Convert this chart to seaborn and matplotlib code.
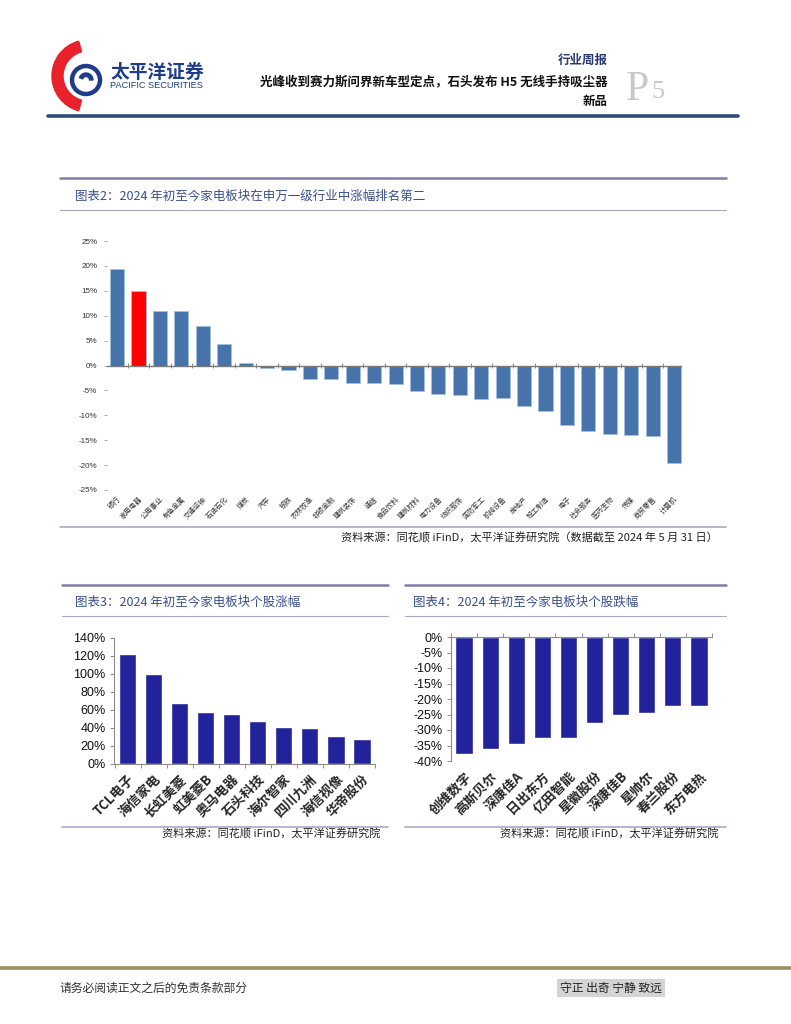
import numpy as np
import matplotlib.pyplot as plt
import seaborn as sns
from matplotlib.lines import Line2D
from matplotlib.patches import Wedge, Circle

# ==============================================================
# Données
# ==============================================================

# Graphique 2 : indices sectoriels Shenwan (niveau 1), variation depuis début 2024
ind_names = ['银行', '家用电器', '公用事业', '有色金属', '交通运输', '石油石化', '煤炭',
             '汽车', '钢铁', '农林牧渔', '非银金融', '建筑装饰', '通信', '食品饮料',
             '建筑材料', '电力设备', '纺织服饰', '国防军工', '机械设备', '房地产',
             '轻工制造', '电子', '社会服务', '医药生物', '传媒', '商贸零售', '计算机']
ind_chg = [19.3, 14.9, 11.0, 10.9, 7.9, 4.3, 0.6,
           -0.5, -1.0, -2.7, -2.8, -3.5, -3.6, -3.8,
           -5.1, -5.7, -5.9, -6.7, -6.6, -8.1,
           -9.1, -11.9, -13.1, -13.7, -13.9, -14.1, -19.5]
highlight = '家用电器'

# Graphique 3 : plus fortes hausses
up_names = ['TCL电子', '海信家电', '长虹美菱', '虹美菱B', '奥马电器',
            '石头科技', '海尔智家', '四川九洲', '海信视像', '华帝股份']
up_chg = [122.3, 99.5, 68.2, 57.5, 55.3, 47.5, 40.9, 39.8, 31.3, 27.3]

# Graphique 4 : plus fortes baisses
down_names = ['创维数字', '高斯贝尔', '深康佳A', '日出东方', '亿田智能',
              '星徽股份', '深康佳B', '星帅尔', '春兰股份', '东方电热']
down_chg = [-37.8, -36.0, -34.6, -32.7, -32.6, -27.9, -25.1, -24.6, -22.4, -22.3]

# ==============================================================
# Configuration
# ==============================================================
sns.set_style("white")
CJK = ['Noto Sans CJK SC', 'DejaVu Sans']
plt.rcParams['font.family'] = CJK
plt.rcParams['axes.unicode_minus'] = False

W, H = 791, 1024
fig = plt.figure(figsize=(W / 100, H / 100), dpi=100)


def box(x0, y0, x1, y1):
    return fig.add_axes([x0 / W, 1 - y1 / H, (x1 - x0) / W, (y1 - y0) / H])


def hline(x0, x1, y, color, lw):
    fig.add_artist(Line2D([x0 / W, x1 / W], [1 - y / H, 1 - y / H],
                          color=color, lw=lw, transform=fig.transFigure))


def txt(x, y, s, **kw):
    fig.text(x / W, 1 - y / H, s, **kw)


def rot_labels(a, bold=False):
    for lbl in a.get_xticklabels():
        lbl.set_rotation(45)
        lbl.set_ha('right')
        lbl.set_va('top')
        lbl.set_rotation_mode('anchor')
        if bold:
            lbl.set_fontweight('bold')


TITLE_C = '#3a4f8e'
LINE_C = '#7d7daa'
LINE_C2 = '#a9a9cc'

# ==============================================================
# En-tête
# ==============================================================
logo = box(45, 36, 112, 116)
logo.set_xlim(45, 112)
logo.set_ylim(116, 36)
logo.axis('off')
logo.add_patch(Wedge((88, 76), 36, 105, 255, width=11, color='#e8212b'))
logo.add_patch(Circle((86, 80), 14, fill=False, lw=3.2, ec='#1f3c8c'))
logo.add_patch(Wedge((86, 80), 7, 200, 360, width=3.5, color='#1f3c8c'))

txt(110, 72, '太平洋证券', fontsize=13.5, fontweight='bold', color='#1f3c8c',
    va='center', ha='left')
txt(110, 86, 'PACIFIC SECURITIES', fontsize=6.6, color='#1f3c8c', va='center',
    ha='left', family=['Liberation Sans'])
txt(608, 60, '行业周报', fontsize=9, fontweight='bold', color='#2a3b70',
    ha='right', va='center')
txt(608, 82, '光峰收到赛力斯问界新车型定点，石头发布 H5 无线手持吸尘器',
    fontsize=9, fontweight='bold', color='#111111', ha='right', va='center')
txt(608, 102, '新品', fontsize=9, fontweight='bold', color='#111111',
    ha='right', va='center')
txt(626, 100, 'P', fontsize=30, color='#c8c8c8', ha='left', va='baseline',
    family=['Liberation Serif'])
txt(651, 98, '5', fontsize=19, color='#c8c8c8', ha='left', va='baseline',
    family=['Liberation Serif'])
hline(48, 738, 116, '#2e4a7a', 2.6)

# ==============================================================
# Graphique 2
# ==============================================================
hline(60, 726, 178, LINE_C, 1.8)
txt(75, 196, '图表2：2024 年初至今家电板块在申万一级行业中涨幅排名第二',
    fontsize=9, color=TITLE_C, va='center')
hline(60, 726, 210, LINE_C2, 0.8)

ax = box(107, 241, 682, 490)
colors = ['#ff0000' if n == highlight else '#4673a9' for n in ind_names]
sns.barplot(x=ind_names, y=ind_chg, hue=ind_names, palette=colors, legend=False,
            width=0.66, saturation=1, edgecolor='#a6c2e4', linewidth=0.5, ax=ax)
ax.set_ylim(-25, 25)
ax.set_xlim(-0.47, len(ind_names) - 0.63)
ax.set_yticks(np.arange(-25, 26, 5))
ax.set_yticklabels([f'{v}%' for v in np.arange(-25, 26, 5)],
                   family=['Liberation Sans'])
for s in ax.spines.values():
    s.set_visible(False)
ax.axhline(0, color='#7a7a7a', lw=1)
ax.vlines(np.arange(len(ind_names) + 1) - 0.5, -0.5, 0.5, color='#7a7a7a', lw=0.6)
ax.tick_params(axis='y', length=2, width=0.6, color='#999999', labelsize=5.8,
               labelcolor='#333333', pad=5, left=True)
ax.tick_params(axis='x', length=0, labelsize=5, labelcolor='#333333', pad=4)
rot_labels(ax)
ax.set_xlabel('')
ax.set_ylabel('')

hline(60, 726, 527, LINE_C2, 1.2)
txt(718, 538, '资料来源：同花顺 iFinD，太平洋证券研究院（数据截至 2024 年 5 月 31 日）',
    fontsize=8, color='#222222', ha='right', va='center')

# ==============================================================
# Graphique 3
# ==============================================================
BAR_C = '#22229a'
hline(62, 388, 585, LINE_C, 1.8)
txt(75, 602, '图表3：2024 年初至今家电板块个股涨幅', fontsize=9, color=TITLE_C,
    va='center')
hline(62, 388, 616, LINE_C2, 0.8)

ax3 = box(114, 638, 375, 764)
sns.barplot(x=up_names, y=up_chg, color=BAR_C, saturation=1, width=0.66, ax=ax3)
ax3.set_ylim(0, 140)
ax3.set_xlim(-0.52, len(up_names) - 0.53)
ax3.set_yticks(np.arange(0, 141, 20))
ax3.set_yticklabels([f'{v}%' for v in np.arange(0, 141, 20)],
                    family=['Liberation Sans'])
for side in ['top', 'right']:
    ax3.spines[side].set_visible(False)
for side in ['left', 'bottom']:
    ax3.spines[side].set_color('#8c8c8c')
    ax3.spines[side].set_linewidth(0.8)
ax3.set_xticks(np.arange(len(up_names) + 1) - 0.5, minor=True)
ax3.tick_params(axis='y', length=3, width=0.7, color='#8c8c8c', labelsize=9,
                labelcolor='#111111', pad=3, left=True)
ax3.tick_params(axis='x', which='major', length=0, labelsize=9.5, pad=6)
ax3.tick_params(axis='x', which='minor', length=3, width=0.7, color='#8c8c8c',
                bottom=True)
rot_labels(ax3, bold=True)
ax3.set_xlabel('')
ax3.set_ylabel('')

hline(62, 388, 827, LINE_C2, 1.2)
txt(380, 834, '资料来源：同花顺 iFinD，太平洋证券研究院', fontsize=8,
    color='#222222', ha='right', va='center')

# ==============================================================
# Graphique 4
# ==============================================================
hline(405, 726, 585, LINE_C, 1.8)
txt(413, 602, '图表4：2024 年初至今家电板块个股跌幅', fontsize=9, color=TITLE_C,
    va='center')
hline(405, 726, 616, LINE_C2, 0.8)

ax4 = box(451, 637, 712, 761)
sns.barplot(x=down_names, y=down_chg, color=BAR_C, saturation=1, width=0.66, ax=ax4)
ax4.set_ylim(-40, 0)
ax4.set_xlim(-0.5, len(down_names) - 0.5)
ax4.set_yticks(np.arange(-40, 1, 5))
ax4.set_yticklabels([f'{v}%' for v in np.arange(-40, 1, 5)],
                    family=['Liberation Sans'])
for side in ['bottom', 'right']:
    ax4.spines[side].set_visible(False)
for side in ['left', 'top']:
    ax4.spines[side].set_color('#8c8c8c')
    ax4.spines[side].set_linewidth(0.8)
ax4.set_xticks(np.arange(len(down_names) + 1) - 0.5, minor=True)
ax4.tick_params(axis='y', length=3, width=0.7, color='#8c8c8c', labelsize=9,
                labelcolor='#111111', pad=3, left=True)
ax4.tick_params(axis='x', which='major', length=0, labelsize=9.5, pad=6)
ax4.tick_params(axis='x', which='minor', length=3, width=0.7, color='#8c8c8c',
                top=True, bottom=False)
rot_labels(ax4, bold=True)
ax4.set_xlabel('')
ax4.set_ylabel('')

hline(405, 726, 827, LINE_C2, 1.2)
txt(718, 834, '资料来源：同花顺 iFinD，太平洋证券研究院', fontsize=8,
    color='#222222', ha='right', va='center')

# ==============================================================
# Pied de page
# ==============================================================
hline(0, 791, 968, '#9c8f5c', 2.6)
txt(60, 988, '请务必阅读正文之后的免责条款部分', fontsize=8.5, color='#333333',
    va='center')
txt(560, 988, '守正 出奇 宁静 致远', fontsize=8.5, color='#222222', va='center',
    bbox=dict(boxstyle='square,pad=0.25', fc='#d4d4d4', ec='none'))

fig.savefig('out.png', dpi=100, facecolor='white')
